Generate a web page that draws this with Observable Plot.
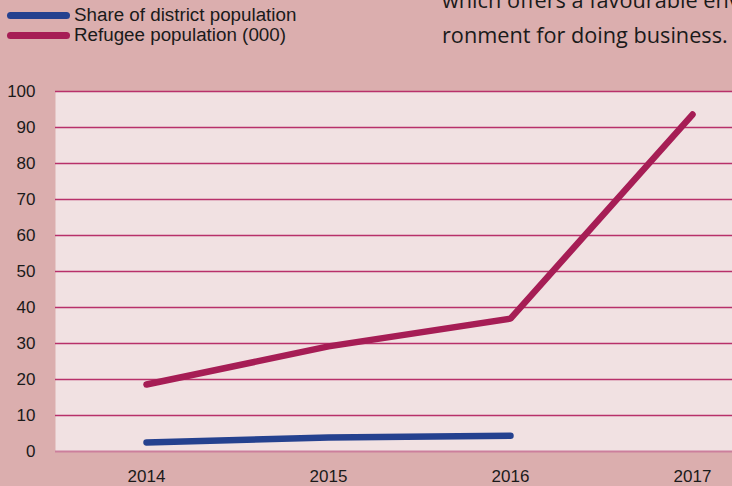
<!DOCTYPE html>
<html>
<head>
<meta charset="utf-8">
<script src="https://cdn.jsdelivr.net/npm/d3@7"></script>
<script src="https://cdn.jsdelivr.net/npm/@observablehq/plot@0.6"></script>
<style>
  html, body { margin: 0; padding: 0; background: #DBAEAE; overflow: hidden; }
  #wrap { position: relative; width: 732px; height: 486px; overflow: hidden; background: #DBAEAE; }
  #head { position: relative; height: 60px; }
  .leg { position: absolute; left: 7px; height: 20px; display: flex; align-items: center; font-family: "Liberation Sans", sans-serif; font-size: 18.8px; color: #1a1a1a; white-space: nowrap; }
  .leg .sw { width: 63px; height: 7px; border-radius: 4px; margin-right: 4px; flex: none; }
  #note { position: absolute; left: 442px; top: -18px; width: 420px; font-family: "Open Sans", sans-serif; font-size: 21.7px; line-height: 35px; color: #1a1a1a; white-space: nowrap; }
  #chart svg { display: block; max-width: none !important; }
</style>
</head>
<body>
<div id="wrap">
  <div id="head">
    <div id="legend"></div>
    <div id="note">which offers a favourable envi-<br>ronment for doing business.</div>
  </div>
  <div id="chart"></div>
</div>
<script>
const years = ["2014", "2015", "2016", "2017"];
const refugeePopulation = [18.6, 29.2, 36.9, 93.6];
const shareOfDistrict = [2.5, 3.9, 4.4, null];
const yTicks = [0, 10, 20, 30, 40, 50, 60, 70, 80, 90, 100];
const seriesNames = ["Share of district population", "Refugee population (000)"];
const seriesColors = ["#25418F", "#A61D55"];

const rows = [];
years.forEach((y, i) => {
  if (shareOfDistrict[i] != null) rows.push({year: y, value: shareOfDistrict[i], series: seriesNames[0]});
  rows.push({year: y, value: refugeePopulation[i], series: seriesNames[1]});
});

// legend
const legend = document.getElementById("legend");
seriesNames.forEach((name, i) => {
  const d = document.createElement("div");
  d.className = "leg";
  d.style.top = (5 + i * 20) + "px";
  d.innerHTML = `<span class="sw" style="background:${seriesColors[i]}"></span><span>${name}</span>`;
  legend.appendChild(d);
});

const chart = Plot.plot({
  width: 782,
  height: 426,
  marginTop: 31,
  marginBottom: 35,
  marginLeft: 55,
  marginRight: 0,
  style: {background: "transparent", fontFamily: "Liberation Sans, sans-serif", fontSize: "17px", color: "#1a1a1a", maxWidth: "none"},
  x: {type: "point", domain: years, padding: 0.494, label: null, tickSize: 0, tickPadding: 18},
  y: {domain: [0, 100], ticks: yTicks, label: null, tickSize: 0, tickPadding: 20},
  color: {domain: seriesNames, range: seriesColors},
  marks: [
    Plot.frame({fill: "#F1E1E2", stroke: null}),
    Plot.ruleY(yTicks.filter(d => d !== 0), {stroke: "#B8306A", strokeWidth: 1.6}),
    Plot.ruleY([0], {stroke: "#CC7F9C", strokeWidth: 1.8}),
    Plot.line(rows, {x: "year", y: "value", z: "series", stroke: "series", strokeWidth: 6.5, strokeLinecap: "round", strokeLinejoin: "miter"})
  ]
});
chart.style.maxWidth = "none";
document.getElementById("chart").appendChild(chart);
</script>
</body>
</html>
